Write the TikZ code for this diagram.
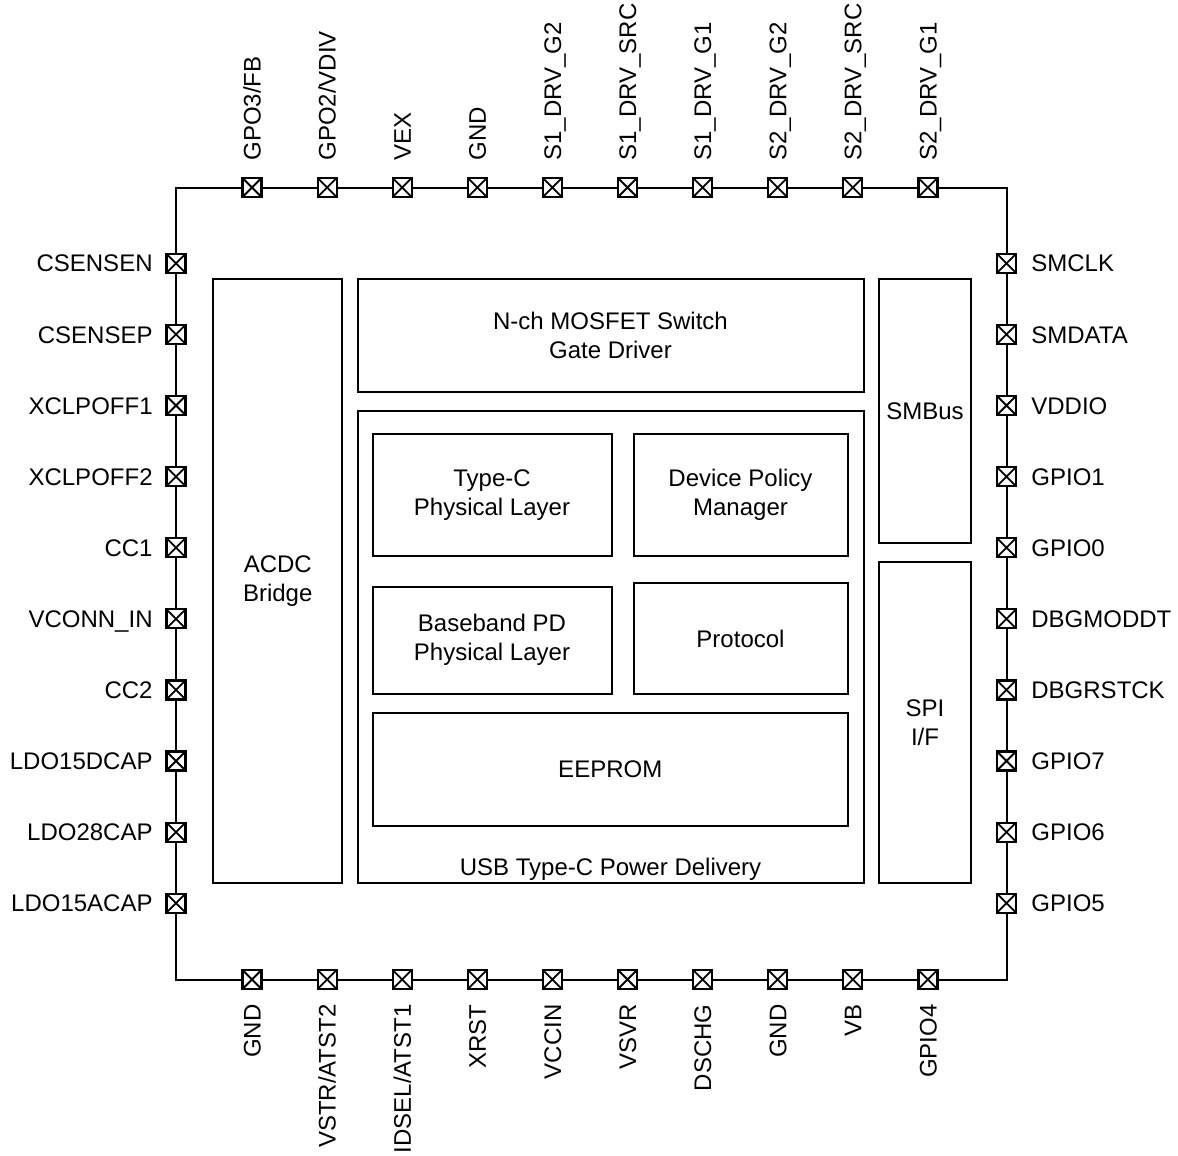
\documentclass[tikz,border=0pt]{standalone}
\usepackage{fontspec}
\setmainfont{Liberation Sans}
\begin{document}
\begin{tikzpicture}[x=0.5pt,y=-0.5pt,
  lbl/.style={font=\fontsize{12}{14.5}\selectfont, inner sep=0pt},
  pin/.style={draw, line width=1.1pt, fill=white, minimum size=9.5pt, inner sep=0pt,
    path picture={\draw[line width=0.9pt] (path picture bounding box.north west)--(path picture bounding box.south east) (path picture bounding box.north east)--(path picture bounding box.south west);}},
  blk/.style={draw, line width=1pt, inner sep=0pt, align=center, font=\fontsize{12}{14.5}\selectfont}]
\useasboundingbox (0,0) rectangle (1178,1156);
\draw[line width=1pt] (176,187.5) rectangle (1006.5,979.5);
% top pins
\foreach \n [count=\i] in {GPO3/FB,GPO2/VDIV,VEX,GND,S1\_DRV\_G2,S1\_DRV\_SRC,S1\_DRV\_G1,S2\_DRV\_G2,S2\_DRV\_SRC,S2\_DRV\_G1}{
  \node[pin] (t\i) at ({252+75.1*(\i-1)},187.5) {};
  \node[lbl, rotate=90, anchor=base west] (tl\i) at ({252+75.1*(\i-1)+8.6},161) {\n};
}
% bottom pins
\foreach \n [count=\i] in {GND,VSTR/ATST2,IDSEL/ATST1,XRST,VCCIN,VSVR,DSCHG,GND,VB,GPIO4}{
  \node[pin] (b\i) at ({252+75.1*(\i-1)},979.5) {};
  \node[lbl, rotate=90, anchor=base east] (bl\i) at ({252+75.1*(\i-1)+8.6},1004) {\n};
}
% left pins
\foreach \n [count=\i] in {CSENSEN,CSENSEP,XCLPOFF1,XCLPOFF2,CC1,VCONN\_IN,CC2,LDO15DCAP,LDO28CAP,LDO15ACAP}{
  \node[pin] (l\i) at (176,{263.3+71.1*(\i-1)}) {};
  \node[lbl, anchor=base east] (ll\i) at (153,{263.3+71.1*(\i-1)+8.6}) {\n};
}
% right pins
\foreach \n [count=\i] in {SMCLK,SMDATA,VDDIO,GPIO1,GPIO0,DBGMODDT,DBGRSTCK,GPIO7,GPIO6,GPIO5}{
  \node[pin] (r\i) at (1006.5,{263.3+71.1*(\i-1)}) {};
  \node[lbl, anchor=base west] (rl\i) at (1031,{263.3+71.1*(\i-1)+8.6}) {\n};
}
% blocks
\node[blk, minimum width=64.5pt, minimum height=301.75pt] (acdc) at (277.75,580.75) {ACDC\\Bridge};
\node[blk, minimum width=253pt, minimum height=56.25pt] (mos) at (610.5,335.25) {N-ch MOSFET Switch\\Gate Driver};
\node[blk, minimum width=253pt, minimum height=236pt] (usb) at (610.5,646.5) {};
\node[lbl, anchor=base] (usbl) at (610.5,875) {USB Type-C Power Delivery};
\node[blk, minimum width=119.5pt, minimum height=61.25pt] (tc) at (492,494.75) {Type-C\\Physical Layer};
\node[blk, minimum width=107pt, minimum height=61.25pt] (dpm) at (740.5,494.75) {Device Policy\\Manager};
\node[blk, minimum width=119.5pt, minimum height=53.75pt] (bb) at (492,640.25) {Baseband PD\\Physical Layer};
\node[blk, minimum width=107pt, minimum height=55.5pt] (prot) at (740.5,638.5) {Protocol};
\node[blk, minimum width=237.75pt, minimum height=56.5pt] (eep) at (610.25,769) {EEPROM};
\node[blk, minimum width=46pt, minimum height=131.75pt] (smb) at (925,410.75) {SMBus};
\node[blk, minimum width=46pt, minimum height=160.25pt] (spi) at (925,722.25) {SPI\\I/F};
\end{tikzpicture}
\end{document}
